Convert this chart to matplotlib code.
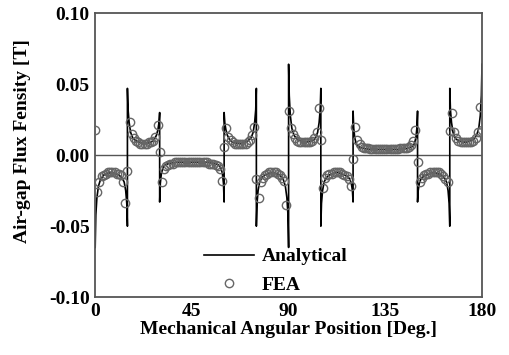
import matplotlib
matplotlib.use("Agg")
import matplotlib.pyplot as plt

# analytical curve
ana_x = [
    0, 0.3, 0.8, 1.5, 2.5, 4, 7.5, 11, 12.5, 13.5, 14.2, 14.7, 15,          # 0-15 neg
    15, 15.3, 15.8, 16.5, 17.5, 19, 22.5, 26, 27.5, 28.5, 29.2, 29.7, 30,   # 15-30 pos
    30, 30.3, 30.8, 31.5, 32.5, 34, 38, 45, 52, 56, 57.5, 58.5, 59.2, 59.7, 60,  # 30-60 neg
    60, 60.3, 60.8, 61.5, 62.5, 64, 67.5, 71, 72.5, 73.5, 74.2, 74.7, 75,   # 60-75 pos
    75, 75.3, 75.8, 76.5, 77.5, 79, 82.5, 86, 87.5, 88.5, 89.2, 89.7, 90,   # 75-90 neg
    90, 90.3, 90.8, 91.5, 92.5, 94, 97.5, 101, 102.5, 103.5, 104.2, 104.7, 105,  # 90-105 pos
    105, 105.3, 105.8, 106.5, 107.5, 109, 112.5, 116, 117.5, 118.5, 119.2, 119.7, 120,  # neg
    120, 120.3, 120.8, 121.5, 122.5, 124, 128, 135, 142, 146, 147.5, 148.5, 149.2, 149.7, 150,  # pos
    150, 150.3, 150.8, 151.5, 152.5, 154, 157.5, 161, 162.5, 163.5, 164.2, 164.7, 165,  # neg
    165, 165.3, 165.8, 166.5, 167.5, 169, 172.5, 176, 177.5, 178.5, 179.2, 179.7, 180,  # pos
]
ana_y = [
    -0.065, -0.042, -0.030, -0.022, -0.017, -0.014, -0.012, -0.014, -0.016, -0.019, -0.025, -0.034, -0.050,
    0.047, 0.032, 0.023, 0.016, 0.012, 0.010, 0.008, 0.009, 0.011, 0.014, 0.018, 0.023, 0.030,
    -0.033, -0.020, -0.013, -0.009, -0.007, -0.006, -0.005, -0.005, -0.005, -0.006, -0.007, -0.009, -0.013, -0.020, -0.033,
    0.030, 0.023, 0.018, 0.014, 0.011, 0.009, 0.008, 0.010, 0.012, 0.016, 0.023, 0.032, 0.047,
    -0.050, -0.034, -0.025, -0.019, -0.016, -0.014, -0.012, -0.014, -0.017, -0.022, -0.030, -0.042, -0.065,
    0.064, 0.042, 0.028, 0.019, 0.014, 0.011, 0.009, 0.010, 0.012, 0.016, 0.023, 0.032, 0.047,
    -0.050, -0.034, -0.025, -0.019, -0.016, -0.014, -0.012, -0.014, -0.015, -0.017, -0.020, -0.025, -0.033,
    0.031, 0.019, 0.012, 0.008, 0.006, 0.005, 0.004, 0.004, 0.004, 0.005, 0.006, 0.008, 0.012, 0.019, 0.031,
    -0.033, -0.025, -0.020, -0.017, -0.015, -0.014, -0.012, -0.014, -0.016, -0.019, -0.025, -0.034, -0.050,
    0.047, 0.032, 0.023, 0.016, 0.012, 0.010, 0.009, 0.011, 0.014, 0.019, 0.028, 0.042, 0.064,
]

# FEA points, one per degree
fea_x = list(range(0, 181))
fea_y = [
    0.018, -0.026, -0.019, -0.015, -0.014, -0.013, -0.012, -0.012, -0.012, -0.012,
    -0.013, -0.013, -0.014, -0.019, -0.034, -0.011, 0.023, 0.015, 0.012, 0.010,
    0.009, 0.008, 0.008, 0.008, 0.008, 0.009, 0.009, 0.010, 0.013, 0.021,
    0.002, -0.019, -0.010, -0.008, -0.007, -0.006, -0.006, -0.005, -0.005, -0.005,
    -0.005, -0.005, -0.005, -0.005, -0.005, -0.005, -0.005, -0.005, -0.005, -0.005,
    -0.005, -0.005, -0.005, -0.006, -0.006, -0.006, -0.007, -0.008, -0.010, -0.018,
    0.006, 0.019, 0.013, 0.011, 0.009, 0.008, 0.008, 0.008, 0.008, 0.008,
    0.008, 0.009, 0.011, 0.014, 0.020, -0.017, -0.030, -0.019, -0.016, -0.014,
    -0.013, -0.012, -0.012, -0.012, -0.012, -0.013, -0.014, -0.016, -0.018, -0.035,
    0.031, 0.019, 0.015, 0.012, 0.010, 0.009, 0.009, 0.009, 0.009, 0.009,
    0.009, 0.010, 0.012, 0.016, 0.033, 0.011, -0.023, -0.016, -0.014, -0.013,
    -0.013, -0.012, -0.012, -0.012, -0.012, -0.013, -0.014, -0.015, -0.017, -0.022,
    -0.003, 0.020, 0.011, 0.008, 0.006, 0.005, 0.005, 0.005, 0.004, 0.004,
    0.004, 0.004, 0.004, 0.004, 0.004, 0.004, 0.004, 0.004, 0.004, 0.004,
    0.004, 0.004, 0.005, 0.005, 0.005, 0.005, 0.006, 0.007, 0.010, 0.018,
    -0.005, -0.019, -0.016, -0.014, -0.013, -0.013, -0.012, -0.012, -0.012, -0.012,
    -0.012, -0.013, -0.015, -0.017, -0.019, 0.017, 0.030, 0.016, 0.012, 0.010,
    0.009, 0.009, 0.009, 0.009, 0.009, 0.009, 0.010, 0.012, 0.016, 0.034,
    0.018,
]

x_ticks = [0, 45, 90, 135, 180]
y_ticks = [-0.10, -0.05, 0.00, 0.05, 0.10]

plt.rcParams['font.family'] = ['Liberation Serif', 'DejaVu Serif']
plt.rcParams['font.weight'] = 'bold'

fig = plt.figure(figsize=(5.09, 3.55), dpi=100)
ax = fig.add_axes([0.187, 0.163, 0.760, 0.800])

ax.axhline(0, color='#555555', lw=1.0, zorder=1)
ax.plot(ana_x, ana_y, color='black', lw=1.2, zorder=2, label='Analytical')
ax.plot(fea_x, fea_y, linestyle='none', marker='o', markersize=6,
        markerfacecolor='none', markeredgecolor='#666666', markeredgewidth=1.0,
        zorder=3, label='FEA')

ax.set_xlim(0, 180)
ax.set_ylim(-0.10, 0.10)
ax.set_xticks(x_ticks)
ax.set_yticks(y_ticks)
ax.set_xticklabels([str(t) for t in x_ticks])
ax.set_yticklabels(['%.2f' % t for t in y_ticks])
ax.tick_params(length=0, labelsize=14, pad=4)
for s in ax.spines.values():
    s.set_color('#555555')
    s.set_linewidth(1.3)

ax.set_xlabel('Mechanical Angular Position [Deg.]', fontsize=14, fontweight='bold', labelpad=1)
ax.set_ylabel('Air-gap Flux Fensity [T]', fontsize=14, fontweight='bold')
ax.yaxis.set_label_coords(-0.165, 0.55)

ax.legend(loc='lower left', bbox_to_anchor=(0.26, -0.015), frameon=False,
          fontsize=14, handlelength=2.6, handletextpad=0.4, labelspacing=0.55,
          borderaxespad=0)

fig.savefig('out.png', dpi=100)
